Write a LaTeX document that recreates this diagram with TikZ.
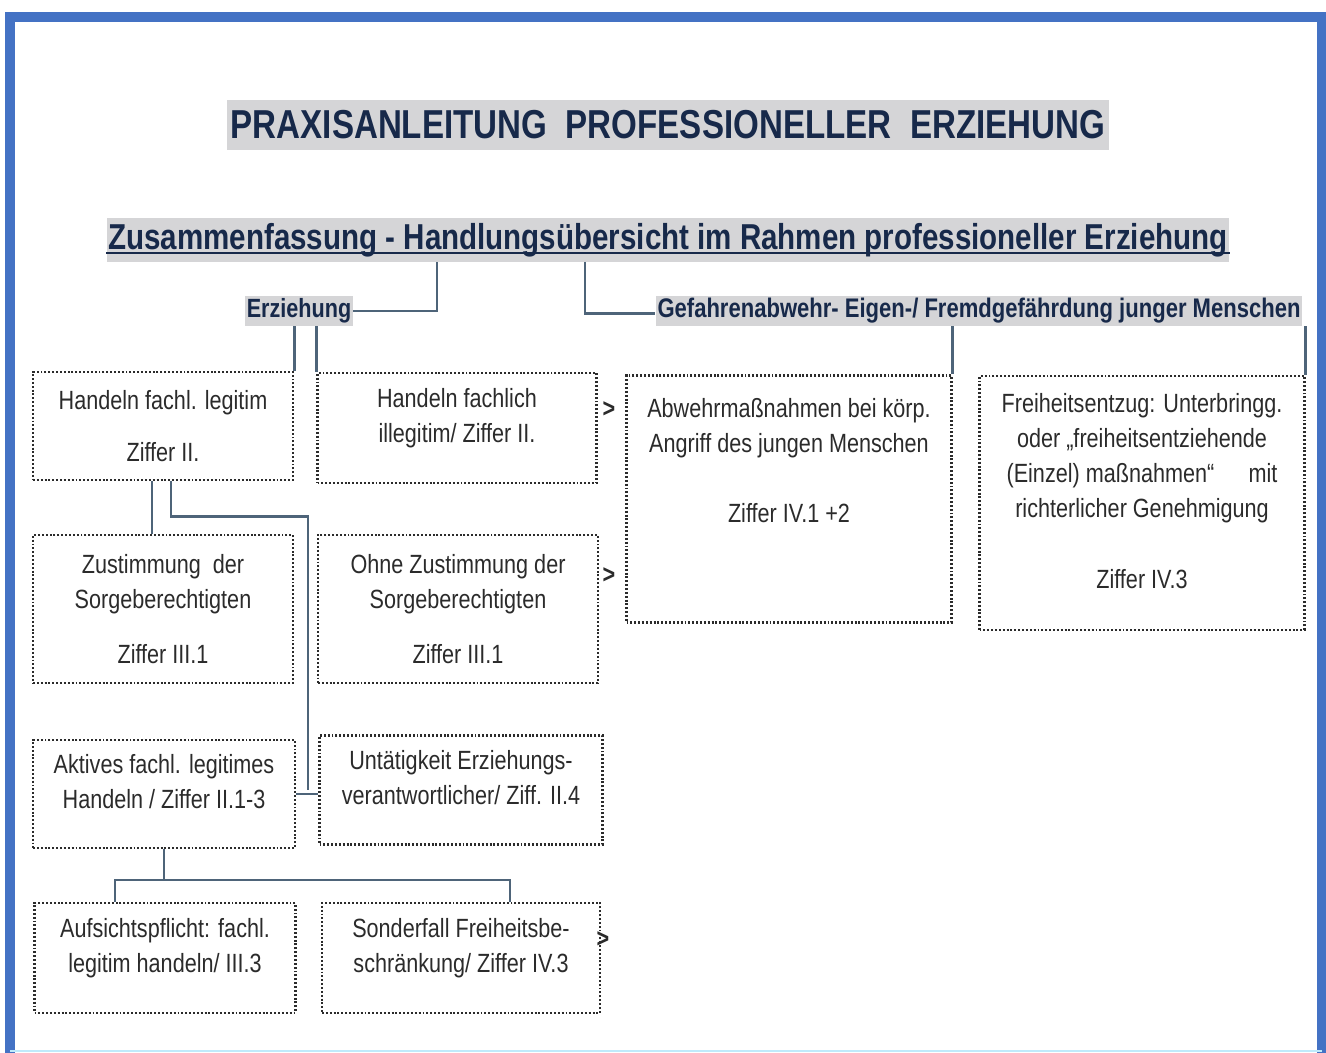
\documentclass[tikz,border=0pt]{standalone}
\usepackage{fontspec}
\setmainfont[FakeStretch = 0.82]{Liberation Sans}
\definecolor{navy}{HTML}{17294A}
\definecolor{linkgray}{HTML}{4E6479}
\definecolor{framebl}{HTML}{4472C4}
\definecolor{shade}{HTML}{D5D5D7}
\definecolor{ink}{HTML}{2B2B2B}

\begin{document}
\begin{tikzpicture}[x = 0.02cm, y = -0.02cm]
\tikzstyle{BoxStyle}=[shape = rectangle,
                      draw = ink, line width = 1.2pt,
                      dash pattern = on 1.1pt off 1.1pt,
                      align = center, text = ink, inner sep = 0pt,
                      font = \fontsize{15pt}{20pt}\selectfont]
\tikzstyle{HeadStyle}=[shape = rectangle, fill = shade, text = navy,
                       inner xsep = 1pt, inner ysep = 0pt]
\tikzstyle{LinkStyle}=[draw = linkgray, line width = 1.7pt]
\tikzstyle{MarkStyle}=[text = ink, inner sep = 0pt,
                       font = \fontsize{15pt}{18pt}\selectfont\bfseries]
\useasboundingbox (0,0) rectangle (1326,1053);
\fill[white] (0,0) rectangle (1326,1053);
\draw[draw = framebl, line width = 5.7pt] (10,1053) -- (10,17) -- (1322,17) -- (1322,1053);
\draw[draw = cyan!25, line width = 1.5pt] (10,1051) -- (1322,1051);
\node[HeadStyle, minimum height = 1cm, inner xsep = 2pt,
      font = \fontsize{23pt}{26pt}\selectfont\bfseries] (t0) at (668,125)
      {PRAXISANLEITUNG~~PROFESSIONELLER~~ERZIEHUNG};
\node[HeadStyle, minimum height = 0.88cm,
      font = \fontsize{20.5pt}{23pt}\selectfont\bfseries] (t1) at (668,240)
      {Zusammenfassung - Handlungsübersicht im Rahmen professioneller Erziehung};
\draw[draw = navy, line width = 1.5pt] ([yshift = -2.2pt]t1.base west) -- ([yshift = -2.2pt]t1.base east);
\node[HeadStyle, minimum height = 0.6cm,
      font = \fontsize{15pt}{18pt}\selectfont\bfseries] (e1) at (299,311) {Erziehung};
\node[HeadStyle, minimum height = 0.6cm,
      font = \fontsize{15.3pt}{18pt}\selectfont\bfseries] (g0) at (979,311)
      {Gefahrenabwehr- Eigen-/ Fremdgefährdung junger Menschen};
\node[BoxStyle, minimum width = 5.2cm, minimum height = 2.16cm] (k1) at (163,426)
      {Handeln fachl. legitim\\[10pt]Ziffer II.};
\node[BoxStyle, minimum width = 5.58cm, minimum height = 2.2cm] (k2) at (457,428)
      {Handeln fachlich\\illegitim/ Ziffer II.\\[-6pt]\mbox{}};
\node[BoxStyle, minimum width = 6.5cm, minimum height = 4.94cm] (k3) at (789,499)
      {Abwehrmaßnahmen bei körp.\\Angriff des jungen Menschen\\[20pt]Ziffer IV.1 +2\\[24pt]\mbox{}};
\node[BoxStyle, minimum width = 6.5cm, minimum height = 5.08cm] (k4) at (1142,503)
      {Freiheitsentzug: Unterbringg.\\oder „freiheitsentziehende\\(Einzel) maßnahmen“\hspace{1.3em}mit\\richterlicher Genehmigung\\[20pt]Ziffer IV.3\\[-6pt]\mbox{}};
\node[BoxStyle, minimum width = 5.2cm, minimum height = 2.96cm] (k5) at (163,609)
      {Zustimmung\ \ der\\Sorgeberechtigten\\[11pt]Ziffer III.1};
\node[BoxStyle, minimum width = 5.6cm, minimum height = 2.96cm] (k6) at (458,609)
      {Ohne Zustimmung der\\Sorgeberechtigten\\[11pt]Ziffer III.1};
\node[BoxStyle, minimum width = 5.24cm, minimum height = 2.16cm] (k7) at (164,794)
      {Aktives fachl. legitimes\\Handeln / Ziffer II.1-3\\[-6pt]\mbox{}};
\node[BoxStyle, minimum width = 5.66cm, minimum height = 2.18cm] (k8) at (461,790)
      {Untätigkeit Erziehungs-\\verantwortlicher/ Ziff. II.4\\[-6pt]\mbox{}};
\node[BoxStyle, minimum width = 5.22cm, minimum height = 2.2cm] (k9) at (165,958)
      {Aufsichtspflicht: fachl.\\legitim handeln/ III.3\\[-6pt]\mbox{}};
\node[BoxStyle, minimum width = 5.56cm, minimum height = 2.2cm] (k10) at (461,958)
      {Sonderfall Freiheitsbe-\\schränkung/ Ziffer IV.3\\[-6pt]\mbox{}};
\node[MarkStyle] (a1) at (609,410) {>};
\node[MarkStyle] (a2) at (609,576) {>};
\node[MarkStyle] (a3) at (603,940) {>};
\coordinate (u1) at (437,262);
\coordinate (u2) at (585,262);
\coordinate (j1) at (308,790);
\coordinate (j3) at (115,880);
\coordinate (j4) at (510,880);
\draw[LinkStyle] (e1.east) -| (u1);
\draw[LinkStyle] (u2) |- ([yshift = -0.06cm]g0.west);
\draw[LinkStyle] (k1.north east |- e1.south) -- (k1.north east);
\draw[LinkStyle] (k2.north west |- e1.south) -- (k2.north west);
\draw[LinkStyle] (k3.north east |- g0.south) -- (k3.north east);
\draw[LinkStyle] (k4.north east |- g0.south) -- (k4.north east);
\draw[LinkStyle] ([xshift = -0.22cm]k1.south) -- ([xshift = -0.22cm]k1.south |- k5.north);
\draw[LinkStyle] ([xshift = 0.16cm]k1.south) -- ++(0,35) -| (j1);
\draw[LinkStyle] (k7.east) -- (k7.east -| k8.west);
\draw[LinkStyle] (k7.south) -- (k7.south |- j3);
\draw[LinkStyle] (j3 |- k9.north) |- (j4) -- (j4 |- k10.north);
\end{tikzpicture}
\end{document}
